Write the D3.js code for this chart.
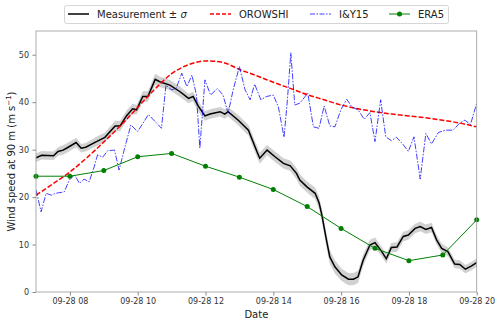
<!DOCTYPE html>
<html lang="en">
  <head>
    <meta charset="utf-8">
    <title>Wind speed at 90 m</title>
    <script src="https://d3js.org/d3.v7.min.js"></script>
    <style>
      body { margin: 0; background: #fff; }
      text { font-family: "DejaVu Sans", sans-serif; }
    </style>
  </head>
  <body>
    <script type="text/javascript">
    // Data (times on 09-28)
    var measTimes = ["07:00","07:10","07:31","07:39","07:48","07:57","08:11","08:20","08:28","08:47",
                     "09:02","09:20","09:29","09:40","09:51","09:58","10:09","10:18","10:31","10:39",
                     "10:57","11:15","11:30","11:38","11:47","11:59","12:08","12:26","12:34","12:40",
                     "12:58","13:16","13:31","13:36","13:49","14:03","14:18","14:30","14:41","14:47",
                     "14:59","15:14","15:21","15:26","15:34","15:40","15:49","16:01","16:13","16:22",
                     "16:30","16:39","16:51","17:00","17:12","17:20","17:29","17:39","17:50","17:59",
                     "18:11","18:20","18:30","18:40","18:49","18:58","19:09","19:21","19:30","19:40",
                     "19:51","20:00"];
    var measValues = [28.3,28.8,28.7,29.6,29.9,30.5,31.5,30.3,30.5,31.7,
                      32.6,35.0,35.0,37.1,38.6,38.4,41.2,41.2,44.8,44.3,
                      43.6,42.2,40.8,41.2,39.2,37.1,37.5,38.0,37.5,38.0,
                      36.2,34.1,29.6,28.2,29.9,28.5,27.1,26.6,25.0,23.6,
                      22.2,20.8,18.8,16.2,11.0,7.4,5.3,3.6,2.7,2.7,
                      3.2,6.7,9.9,10.4,8.5,7.0,9.4,9.5,11.7,12.0,
                      13.4,13.8,13.2,13.6,11.0,9.2,8.5,5.9,5.8,4.8,
                      5.5,6.2];
    var measSigma = [0.9,0.9,0.9,0.9,1.0,1.0,1.0,0.9,0.9,1.0,
                     1.0,1.1,1.1,1.1,1.1,1.0,1.1,1.1,1.2,1.1,
                     1.1,1.1,1.0,1.0,1.1,1.0,1.0,1.0,1.0,1.0,
                     1.1,1.1,1.2,1.2,1.1,1.1,1.1,1.1,1.2,1.2,
                     1.2,1.2,1.3,1.4,1.5,1.5,1.4,1.3,1.3,1.3,
                     1.3,1.2,1.1,1.1,1.0,1.0,1.0,1.0,1.0,1.0,
                     1.0,1.0,1.0,1.0,1.0,1.0,0.9,0.9,0.9,0.9,
                     0.9,0.9];

    var orowTimes = ["07:00","07:30","08:00","08:30","09:00","09:30","10:00","10:30","11:00","11:30",
                     "12:00","12:30","13:00","13:30","14:00","14:30","15:00","15:30","16:00","16:30",
                     "17:00","17:30","18:00","18:30","19:00","19:30","20:00"];
    var orowValues = [20.4,22.8,25.3,28.3,31.6,35.1,38.9,42.7,46.0,47.9,
                      48.7,48.4,46.9,45.6,44.2,42.9,41.6,40.5,39.4,38.6,
                      38.0,37.5,37.1,36.7,36.2,35.6,34.8];

    var iyTimes = ["07:00","07:09","07:18","07:27","07:35","07:50","07:59","08:08","08:17","08:25",
                   "08:34","08:43","08:49","08:58","09:07","09:19","09:27","09:36","09:48","10:00",
                   "10:19","10:31","10:42","10:50","11:00","11:08","11:18","11:27","11:36","11:44",
                   "11:50","11:59","12:09","12:21","12:31","12:40","12:49","13:00","13:10","13:19",
                   "13:27","13:38","13:48","14:00","14:09","14:19","14:25","14:31","14:38","14:47",
                   "15:01","15:11","15:21","15:30","15:40","15:49","16:00","16:10","16:19","16:30",
                   "16:41","16:51","17:00","17:10","17:19","17:29","17:38","17:49","17:59","18:09",
                   "18:20","18:30","18:40","18:52","19:04","19:18","19:30","19:39","19:49","20:00"];
    var iyValues = [21.5,16.9,20.8,20.4,20.8,21.1,23.6,24.7,22.9,23.8,
                    23.2,26.4,28.9,28.4,29.8,29.9,25.7,29.9,35.2,33.8,
                    37.4,35.9,34.5,43.6,42.6,42.9,46.1,43.3,45.7,41.5,
                    30.3,44.7,41.5,42.9,41.5,37.7,42.6,47.5,42.6,40.5,
                    43.8,40.5,41.2,41.5,39.0,32.6,40.5,50.4,39.4,39.8,
                    41.9,34.8,34.5,39.2,35.0,34.8,38.5,40.6,39.0,38.4,
                    36.4,37.8,31.7,40.5,32.7,31.9,32.6,31.2,29.6,32.7,
                    23.8,33.4,31.2,33.6,34.1,34.1,35.6,36.2,35.3,39.8];

    var eraTimes = ["07:00","08:00","09:00","10:00","11:00","12:00","13:00","14:00",
                    "15:00","16:00","17:00","18:00","19:00","20:00"];
    var eraValues = [24.4,24.4,25.6,28.5,29.2,26.5,24.2,21.6,18.0,13.4,9.2,6.6,7.8,15.2];

    var yTicks = [0, 10, 20, 30, 40, 50];
    var xTickTimes = ["08:00","10:00","12:00","14:00","16:00","18:00","20:00"];
    var legendLabels = ["Measurement \u00b1 ", "OROWSHI", "I&Y15", "ERA5"];

    var parseTime = d3.timeParse("%Y-%m-%d %H:%M");
    var toDate = function(t) { return parseTime("2020-09-28 " + t); };

    var zip = function(times, values, extra) {
      return times.map(function(t, i) {
        return { t: toDate(t), v: values[i], s: extra ? extra[i] : 0 };
      });
    };

    var meas = zip(measTimes, measValues, measSigma);
    var orow = zip(orowTimes, orowValues);
    var iy = zip(iyTimes, iyValues);
    var era = zip(eraTimes, eraValues);

    var w = 500, h = 323;
    var mLeft = 36, mRight = 476.7, mTop = 31, mBottom = 292;

    var svg = d3.select("body").append("svg")
                .attr("width", w)
                .attr("height", h);

    var xScale = d3.scaleTime()
                   .domain([toDate("07:00"), toDate("20:00")])
                   .range([mLeft, mRight]);
    var yScale = d3.scaleLinear()
                   .domain([0, 55])
                   .range([mBottom, mTop]);

    svg.append("defs").append("clipPath").attr("id", "plotclip")
       .append("rect")
       .attr("x", mLeft).attr("y", mTop)
       .attr("width", mRight - mLeft).attr("height", mBottom - mTop);

    var plot = svg.append("g").attr("clip-path", "url(#plotclip)");

    // Uncertainty band
    var band = d3.area()
                 .x(function(d) { return xScale(d.t); })
                 .y0(function(d) { return yScale(d.v - d.s); })
                 .y1(function(d) { return yScale(d.v + d.s); });
    plot.append("path")
        .datum(meas)
        .attr("d", band)
        .attr("fill", "#999")
        .attr("opacity", 0.45);

    var line = d3.line()
                 .x(function(d) { return xScale(d.t); })
                 .y(function(d) { return yScale(d.v); });

    plot.append("path")
        .datum(meas)
        .attr("d", line)
        .attr("fill", "none")
        .attr("stroke", "black")
        .attr("stroke-width", 1.5);

    plot.append("path")
        .datum(orow)
        .attr("d", line.curve(d3.curveMonotoneX))
        .attr("fill", "none")
        .attr("stroke", "red")
        .attr("stroke-width", 1.5)
        .attr("stroke-dasharray", "5,2");
    line.curve(d3.curveLinear);

    plot.append("path")
        .datum(iy)
        .attr("d", line)
        .attr("fill", "none")
        .attr("stroke", "blue")
        .attr("stroke-opacity", 0.75)
        .attr("stroke-width", 1)
        .attr("stroke-dasharray", "6,1.5,1.5,1.5");

    plot.append("path")
        .datum(era)
        .attr("d", line)
        .attr("fill", "none")
        .attr("stroke", "green")
        .attr("stroke-width", 1);

    svg.selectAll("circle.era")
       .data(era)
       .enter()
       .append("circle")
       .attr("class", "era")
       .attr("cx", function(d) { return xScale(d.t); })
       .attr("cy", function(d) { return yScale(d.v); })
       .attr("r", 2.5)
       .attr("fill", "green");

    // Axes
    var xAxis = d3.axisBottom(xScale)
                  .tickValues(xTickTimes.map(toDate))
                  .tickFormat(d3.timeFormat("%m-%d %H"))
                  .tickSize(3.5)
                  .tickPadding(3);
    var yAxis = d3.axisLeft(yScale)
                  .tickValues(yTicks)
                  .tickSize(3.5)
                  .tickPadding(3.5);

    var gx = svg.append("g")
                .attr("transform", "translate(0," + mBottom + ")")
                .call(xAxis);
    var gy = svg.append("g")
                .attr("transform", "translate(" + mLeft + ",0)")
                .call(yAxis);
    [gx, gy].forEach(function(g) {
      g.select(".domain").remove();
      g.selectAll("line").attr("stroke", "#888");
      g.selectAll("text").attr("fill", "#333").style("font-size", "8px");
    });

    svg.append("rect")
       .attr("x", mLeft).attr("y", mTop)
       .attr("width", mRight - mLeft).attr("height", mBottom - mTop)
       .attr("fill", "none")
       .attr("stroke", "#999")
       .attr("stroke-width", 0.8);

    svg.append("text")
       .attr("x", (mLeft + mRight) / 2)
       .attr("y", 318)
       .attr("text-anchor", "middle")
       .attr("fill", "#222")
       .style("font-size", "10px")
       .text("Date");

    var ylab = svg.append("text")
                  .attr("transform", "translate(15," + ((mTop + mBottom) / 2) + ") rotate(-90)")
                  .attr("text-anchor", "middle")
                  .attr("fill", "#222")
                  .style("font-size", "10px");
    ylab.append("tspan").text("Wind speed at 90 m (m s");
    ylab.append("tspan").attr("dy", "-4").style("font-size", "7px").text("\u22121");
    ylab.append("tspan").attr("dy", "4").text(")");

    // Legend
    var legend = svg.append("g");
    legend.append("rect")
          .attr("x", 64.5).attr("y", 5.5)
          .attr("width", 384).attr("height", 18)
          .attr("rx", 2)
          .attr("fill", "white")
          .attr("stroke", "#ccc")
          .attr("stroke-width", 0.8);

    var legendX = [68, 210, 310, 389];
    var legendStyles = [
      { stroke: "black", width: 1.5, dash: null, opacity: 1 },
      { stroke: "red", width: 1.5, dash: "4,2", opacity: 1 },
      { stroke: "blue", width: 1, dash: "5,1.5,1.5,1.5", opacity: 0.75 },
      { stroke: "green", width: 1, dash: null, opacity: 1 }
    ];
    legendLabels.forEach(function(lbl, i) {
      var st = legendStyles[i];
      legend.append("line")
            .attr("x1", legendX[i]).attr("x2", legendX[i] + 21)
            .attr("y1", 14).attr("y2", 14)
            .attr("stroke", st.stroke)
            .attr("stroke-width", st.width)
            .attr("stroke-opacity", st.opacity)
            .attr("stroke-dasharray", st.dash);
      if (i === 3) {
        legend.append("circle")
              .attr("cx", legendX[i] + 10.5).attr("cy", 14)
              .attr("r", 2.5).attr("fill", "green");
      }
      var txt = legend.append("text")
            .attr("x", legendX[i] + 29)
            .attr("y", 17.5)
            .attr("fill", "#222")
            .style("font-size", "10px")
            .style("white-space", "pre")
            .text(lbl);
      if (i === 0) {
        // italic sigma, as in the math text of the original
        txt.append("tspan").style("font-style", "italic").text("\u03c3");
      }
    });
    </script>
  </body>
</html>
